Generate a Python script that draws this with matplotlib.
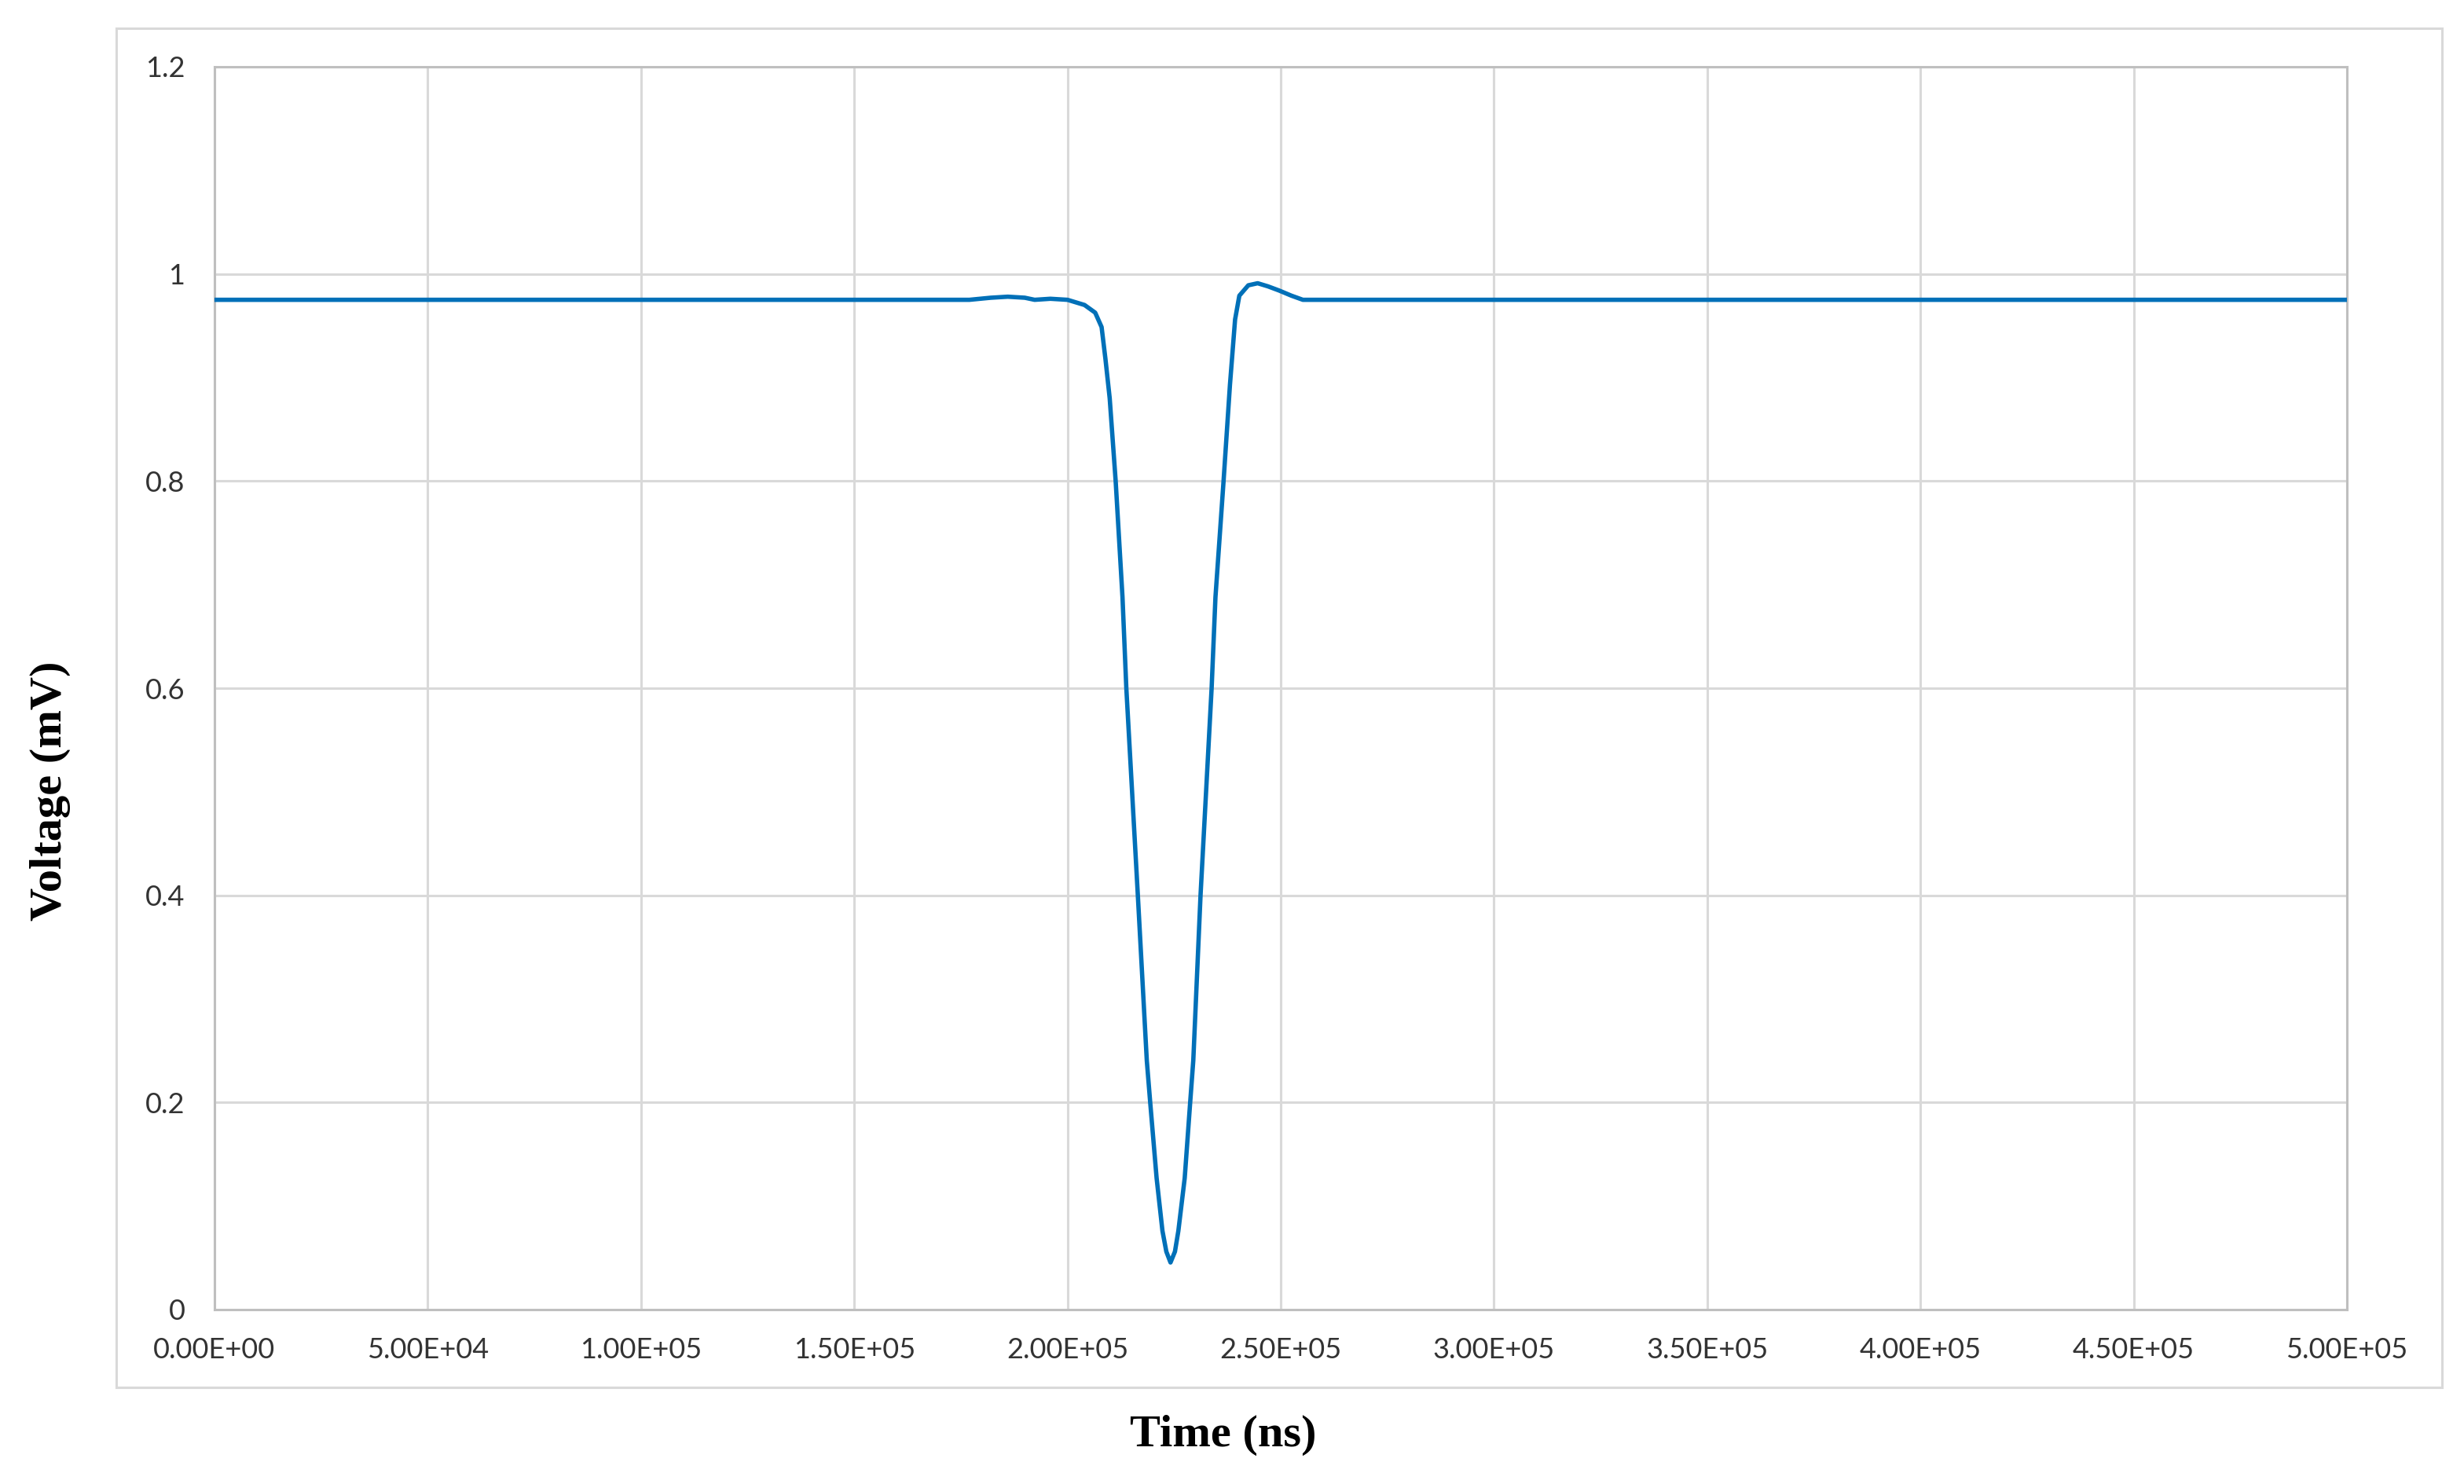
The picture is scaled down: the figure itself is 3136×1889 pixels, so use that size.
import numpy as np
import matplotlib
matplotlib.use('Agg')
import matplotlib.pyplot as plt
from matplotlib.patches import Rectangle

# values (time in ns, voltage in mV)
time_ns = [0, 1.70e5, 1.77e5, 1.82e5, 1.86e5, 1.90e5, 1.923e5, 1.96e5, 2.00e5,
           2.04e5, 2.065e5, 2.08e5, 2.089e5, 2.099e5, 2.113e5, 2.129e5, 2.138e5,
           2.165e5, 2.186e5, 2.194e5, 2.209e5, 2.2227e5, 2.2318e5, 2.2416e5,
           2.252e5, 2.26e5, 2.2749e5, 2.2877e5, 2.295e5, 2.312e5, 2.338e5,
           2.347e5, 2.366e5, 2.381e5, 2.393e5, 2.403e5, 2.424e5, 2.446e5,
           2.47e5, 2.496e5, 2.525e5, 2.552e5, 5.0e5]
voltage_mv = [0.975, 0.975, 0.975, 0.977, 0.978, 0.977, 0.975, 0.976, 0.975,
              0.970, 0.9626, 0.9487, 0.918, 0.880, 0.800, 0.688, 0.600,
              0.400, 0.2405, 0.200, 0.127, 0.076, 0.056, 0.0455,
              0.056, 0.076, 0.127, 0.200, 0.2405, 0.400, 0.600,
              0.688, 0.800, 0.893, 0.956, 0.979, 0.989, 0.991,
              0.988, 0.984, 0.979, 0.975, 0.975]

x_ticks = [0, 5e4, 1e5, 1.5e5, 2e5, 2.5e5, 3e5, 3.5e5, 4e5, 4.5e5, 5e5]
y_ticks = [0, 0.2, 0.4, 0.6, 0.8, 1.0, 1.2]
y_tick_labels = ['0', '0.2', '0.4', '0.6', '0.8', '1', '1.2']

tick_font = ['Lato', 'DejaVu Sans']
title_font = ['Liberation Serif', 'DejaVu Serif']

W, H = 3136, 1889
fig = plt.figure(figsize=(W / 100, H / 100), dpi=100)
fig.patch.set_facecolor('white')

# chart area border
fig.patches.append(Rectangle((148 / W, 1 - 1766 / H), (3108 - 148) / W, (1766 - 36) / H,
                             transform=fig.transFigure, fill=False,
                             edgecolor='#d9d9d9', linewidth=2.2, zorder=0))

ax = fig.add_axes([273 / W, 1 - 1667 / H, (2987 - 273) / W, (1667 - 85) / H])
ax.plot(time_ns, voltage_mv, color='#0070b8', linewidth=4.0,
        solid_joinstyle='round', solid_capstyle='round', zorder=3)

ax.set_xlim(0, 5e5)
ax.set_ylim(0, 1.2)
ax.set_xticks(x_ticks)
ax.set_xticklabels(['{:.2E}'.format(v) for v in x_ticks])
ax.set_yticks(y_ticks)
ax.set_yticklabels(y_tick_labels)
ax.grid(True, color='#d9d9d9', linewidth=2.2, zorder=0)
ax.set_axisbelow(True)
for s in ax.spines.values():
    s.set_color('#bfbfbf')
    s.set_linewidth(2.2)
ax.tick_params(length=0, labelsize=26, labelcolor='#333333')
ax.tick_params(axis='y', pad=27)
ax.tick_params(axis='x', pad=25)
for lab in ax.get_xticklabels() + ax.get_yticklabels():
    lab.set_family(tick_font)

fig.text(64 / W, 1 - 1007 / H, 'Voltage (mV)', rotation=90, ha='center', va='center',
         fontsize=42, fontweight='bold', family=title_font)
fig.text(1557 / W, 1 - 1827 / H, 'Time (ns)', ha='center', va='center',
         fontsize=42, fontweight='bold', family=title_font)

fig.savefig('out.png', dpi=100)
